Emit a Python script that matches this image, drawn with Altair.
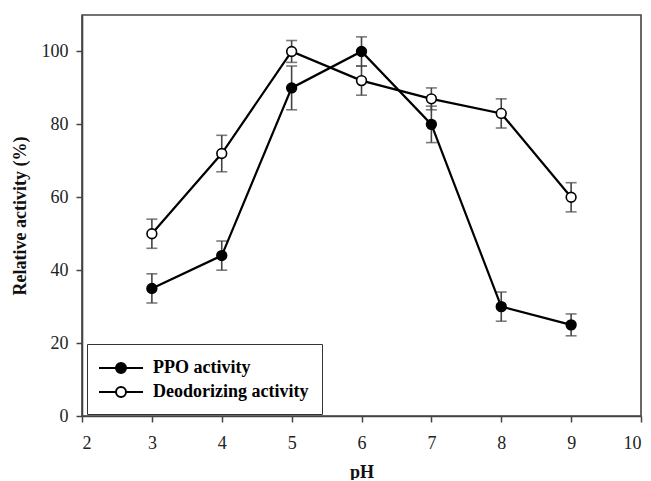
import altair as alt
import pandas as pd

ph = [3, 4, 5, 6, 7, 8, 9]
ppo = [35, 44, 90, 100, 80, 30, 25]
ppo_err = [4, 4, 6, 4, 5, 4, 3]
deo = [50, 72, 100, 92, 87, 83, 60]
deo_err = [4, 5, 3, 4, 3, 4, 4]
series = ["PPO activity", "Deodorizing activity"]

rows = []
for name, vals, errs in [(series[0], ppo, ppo_err), (series[1], deo, deo_err)]:
    for x, v, e in zip(ph, vals, errs):
        rows.append({"pH": x, "value": v, "lo": v - e, "hi": v + e, "series": name})
df = pd.DataFrame(rows)

FONT = "Liberation Serif"

xs = alt.Scale(domain=[2, 10], nice=False, zero=False)
ys = alt.Scale(domain=[0, 110], nice=False)

x = alt.X("pH:Q", scale=xs,
          axis=alt.Axis(values=list(range(2, 11)), format="d", title="pH", grid=False))
y = alt.Y("value:Q", scale=ys,
          axis=alt.Axis(values=[0, 20, 40, 60, 80, 100], format="d",
                        title="Relative activity (%)", grid=False))

base = alt.Chart(df)

err_rule = base.mark_rule(color="#444", strokeWidth=1.6).encode(
    x=alt.X("pH:Q", scale=xs), y=alt.Y("lo:Q", scale=ys), y2="hi:Q")
cap_lo = base.mark_tick(color="#444", thickness=1.6, size=11, orient="horizontal").encode(
    x=alt.X("pH:Q", scale=xs), y=alt.Y("lo:Q", scale=ys))
cap_hi = base.mark_tick(color="#444", thickness=1.6, size=11, orient="horizontal").encode(
    x=alt.X("pH:Q", scale=xs), y=alt.Y("hi:Q", scale=ys))

lines = base.mark_line(color="black", strokeWidth=2.2).encode(
    x=x, y=y, detail="series:N")

r = 0.5
L = 2.2
sym = (f"M{-L},0 L{-r},0 M{r},0 L{L},0 "
       f"M{-r},0 A{r},{r} 0 1,0 {r},0 A{r},{r} 0 1,0 {-r},0 Z")

points = base.mark_point(filled=True, size=95, stroke="black", strokeWidth=1.6, opacity=1).encode(
    x=alt.X("pH:Q", scale=xs), y=alt.Y("value:Q", scale=ys),
    fill=alt.Fill("series:N",
                  scale=alt.Scale(domain=series, range=["black", "white"]),
                  legend=alt.Legend(
                      title=None, orient="none", legendX=5, legendY=329,
                      direction="vertical",
                      strokeColor="#333", padding=13,
                      symbolType=sym, symbolSize=400, symbolOffset=10,
                      symbolStrokeColor="black", symbolStrokeWidth=2,
                      labelFont=FONT, labelFontSize=18, labelFontWeight="bold",
                      labelColor="black", labelOffset=21, rowPadding=4,
                      labelLimit=400)),
)

chart = alt.layer(err_rule, cap_lo, cap_hi, lines, points).properties(
    width=559, height=401,
    autosize=alt.AutoSizeParams(type="none"),
    padding={"left": 74, "top": 7, "right": 2, "bottom": 64},
).configure_view(
    stroke="#444", strokeWidth=1.6
).configure_axis(
    domainColor="#444", domainWidth=1.6, tickColor="#444", tickWidth=1.5, tickSize=6,
    labelFont=FONT, labelFontSize=18, labelColor="#222", labelPadding=8,
    titleFont=FONT, titleFontSize=18, titleFontWeight="bold", titleColor="#111",
).configure_axisX(
    labelPadding=12, titlePadding=11
).configure_axisY(
    titlePadding=12
)

chart.save("out.html", embed_options={"renderer": "svg", "actions": False})
